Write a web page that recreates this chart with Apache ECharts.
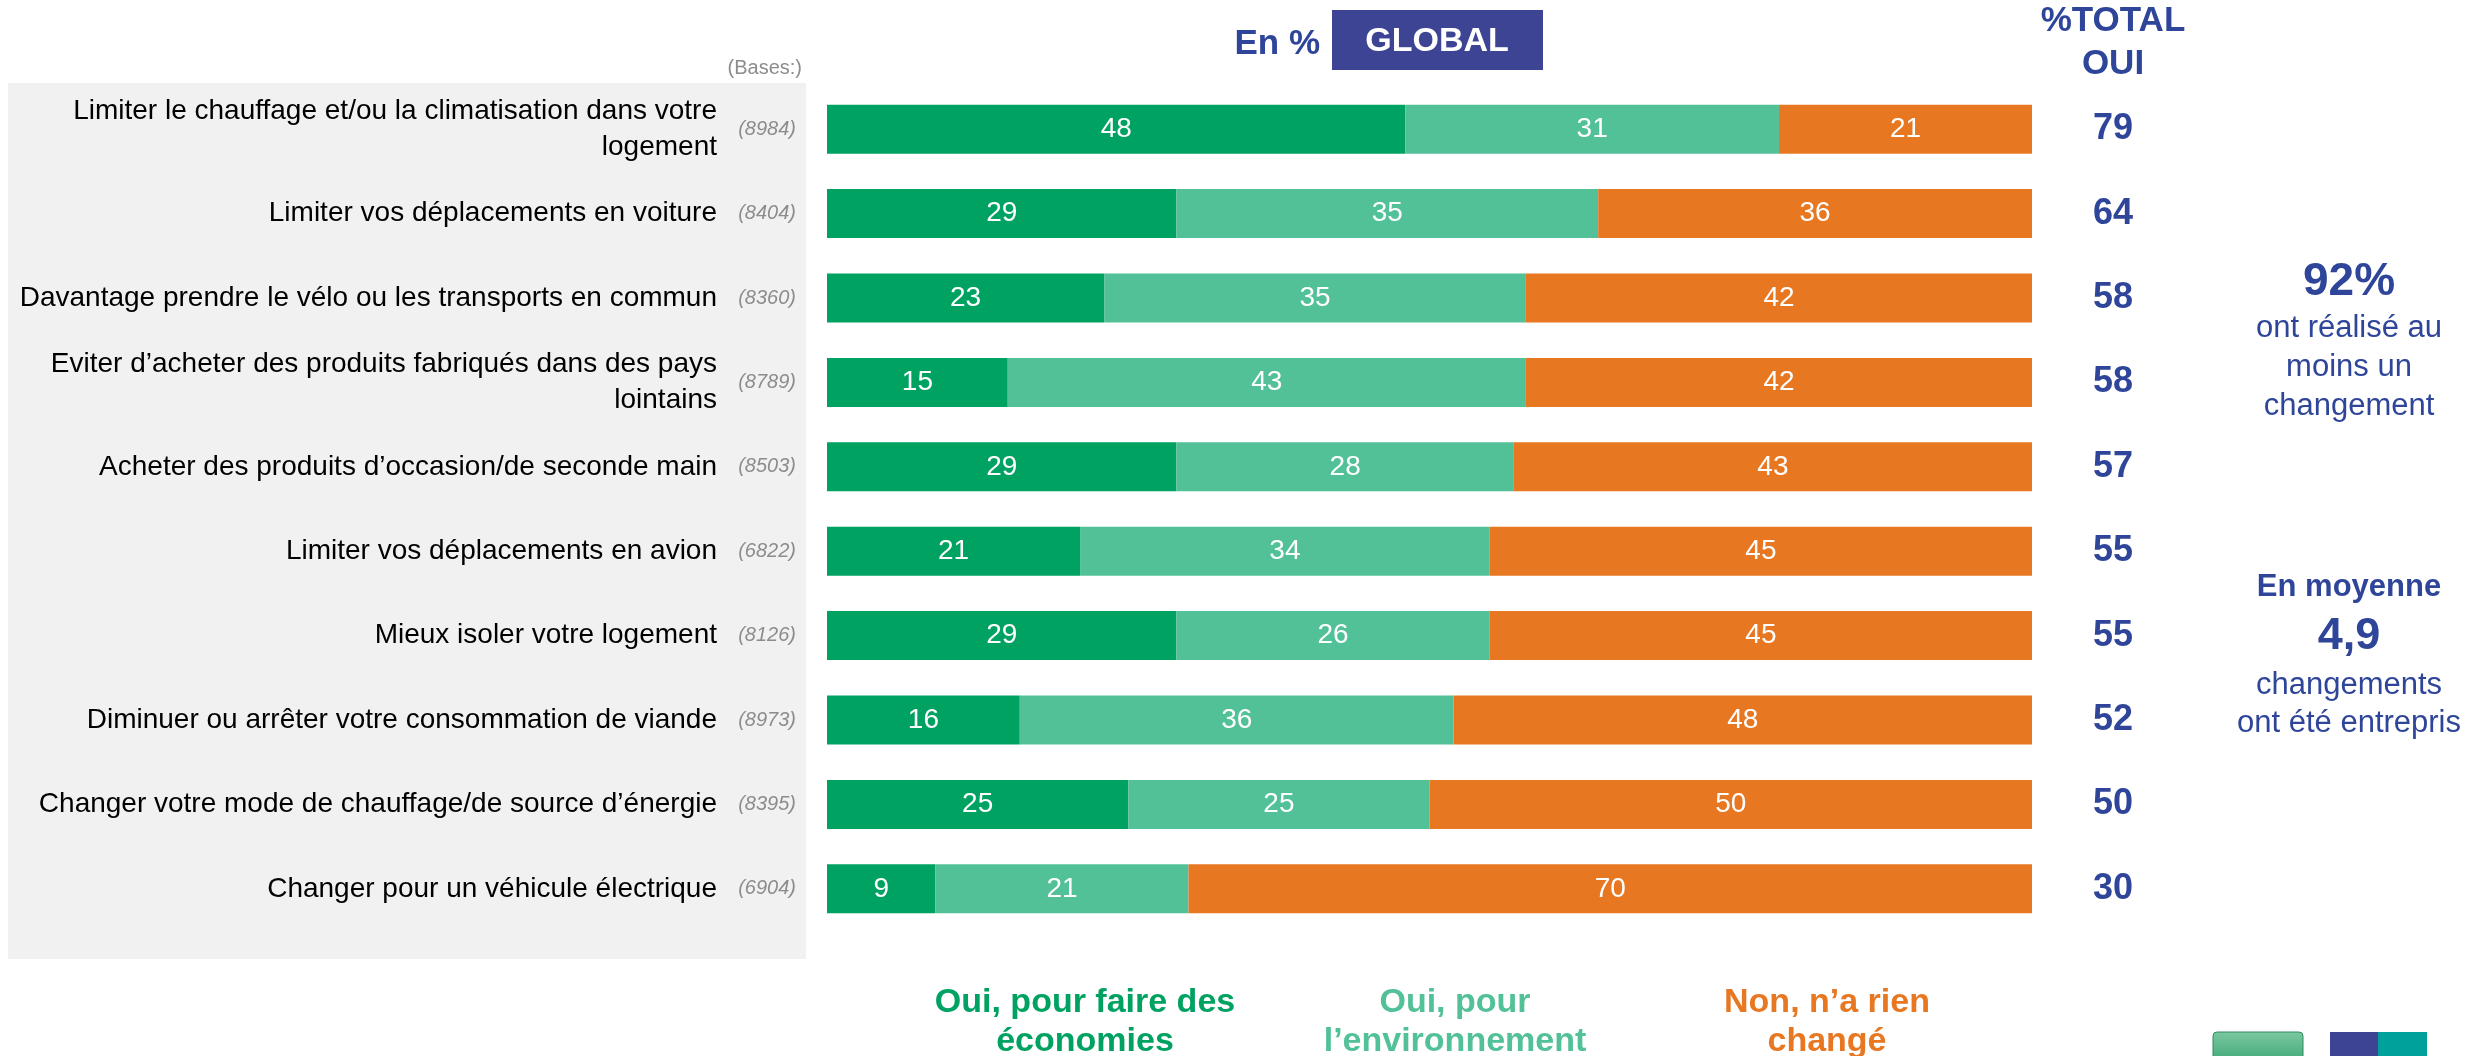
<!DOCTYPE html>
<html>
<head>
<meta charset="utf-8">
<script src="https://cdn.jsdelivr.net/npm/echarts@6/dist/echarts.min.js"></script>
<style>
  html, body { margin: 0; padding: 0; background: #fff; }
  #chart { width: 2486px; height: 1056px; }
</style>
</head>
<body>
<div id="chart"></div>
<script>
const categories = [
  "Limiter le chauffage et/ou la climatisation dans votre\nlogement",
  "Limiter vos déplacements en voiture",
  "Davantage prendre le vélo ou les transports en commun",
  "Eviter d’acheter des produits fabriqués dans des pays\nlointains",
  "Acheter des produits d’occasion/de seconde main",
  "Limiter vos déplacements en avion",
  "Mieux isoler votre logement",
  "Diminuer ou arrêter votre consommation de viande",
  "Changer votre mode de chauffage/de source d’énergie",
  "Changer pour un véhicule électrique"
];
const bases = ["(8984)", "(8404)", "(8360)", "(8789)", "(8503)", "(6822)", "(8126)", "(8973)", "(8395)", "(6904)"];
const economies = [48, 29, 23, 15, 29, 21, 29, 16, 25, 9];
const environnement = [31, 35, 35, 43, 28, 34, 26, 36, 25, 21];
const rienChange = [21, 36, 42, 42, 43, 45, 45, 48, 50, 70];
const totalOui = [79, 64, 58, 58, 57, 55, 55, 52, 50, 30];
const seriesNames = ["Oui, pour faire des\néconomies", "Oui, pour\nl’environnement", "Non, n’a rien\nchangé"];

const FONT = "'Liberation Sans', Arial, sans-serif";
const BLUE = "#2E4599";
const colors = ["#00A262", "#52C197", "#E87722"];

const chart = echarts.init(document.getElementById("chart"));

function barSeries(name, data, color) {
  return {
    name: name,
    type: "bar",
    stack: "total",
    barWidth: 49,
    data: data,
    itemStyle: { color: color },
    label: {
      show: true,
      position: "inside",
      color: "#fff",
      fontSize: 28,
      fontFamily: FONT
    },
    emphasis: { disabled: true }
  };
}

function txt(text, x, y, size, color, weight, align) {
  return {
    type: "text",
    style: {
      text: text,
      x: x,
      y: y,
      fontSize: size,
      fontFamily: FONT,
      fontWeight: weight || "normal",
      fill: color,
      textAlign: align || "center",
      textVerticalAlign: "middle"
    }
  };
}

const option = {
  animation: false,
  grid: { left: 827, right: 454, top: 87, height: 844 },
  xAxis: { type: "value", min: 0, max: 100, show: false },
  yAxis: [
    {
      type: "category",
      data: categories,
      inverse: true,
      position: "left",
      axisLine: { show: false },
      axisTick: { show: false },
      axisLabel: { margin: 110, fontSize: 28, lineHeight: 36, color: "#000", fontFamily: FONT }
    },
    {
      type: "category",
      data: bases,
      inverse: true,
      position: "left",
      axisLine: { show: false },
      axisTick: { show: false },
      axisLabel: { margin: 31, fontSize: 20, fontStyle: "italic", color: "#8C8C8C", fontFamily: FONT }
    },
    {
      type: "category",
      data: totalOui,
      inverse: true,
      position: "right",
      axisLine: { show: false },
      axisTick: { show: false },
      axisLabel: { margin: 81, align: "center", fontSize: 36, fontWeight: "bold", color: BLUE, fontFamily: FONT }
    }
  ],
  series: [
    barSeries(seriesNames[0], economies, colors[0]),
    barSeries(seriesNames[1], environnement, colors[1]),
    barSeries(seriesNames[2], rienChange, colors[2])
  ],
  graphic: [
    { type: "rect", z: -10, silent: true, shape: { x: 8, y: 83, width: 798, height: 876 }, style: { fill: "#F1F1F1" } },
    txt("(Bases:)", 802, 68, 20, "#8C8C8C", "normal", "right"),
    txt("En %", 1320, 44, 35, BLUE, "bold", "right"),
    { type: "rect", shape: { x: 1332, y: 10, width: 211, height: 60 }, style: { fill: "#3D4494" } },
    txt("GLOBAL", 1437, 42, 34, "#fff", "bold"),
    txt("%TOTAL", 2113, 21, 35, BLUE, "bold"),
    txt("OUI", 2113, 64, 35, BLUE, "bold"),
    txt("92%", 2349, 282, 46, BLUE, "bold"),
    txt("ont réalisé au", 2349, 328, 31, BLUE),
    txt("moins un", 2349, 367, 31, BLUE),
    txt("changement", 2349, 406, 31, BLUE),
    txt("En moyenne", 2349, 587, 31, BLUE, "bold"),
    txt("4,9", 2349, 637, 45, BLUE, "bold"),
    txt("changements", 2349, 685, 31, BLUE),
    txt("ont été entrepris", 2349, 723, 31, BLUE),
    txt("Oui, pour faire des", 1085, 1003, 34, colors[0], "bold"),
    txt("économies", 1085, 1042, 34, colors[0], "bold"),
    txt("Oui, pour", 1455, 1003, 34, colors[1], "bold"),
    txt("l’environnement", 1455, 1042, 34, colors[1], "bold"),
    txt("Non, n’a rien", 1827, 1003, 34, colors[2], "bold"),
    txt("changé", 1827, 1042, 34, colors[2], "bold"),
    {
      type: "rect",
      shape: { x: 2213, y: 1032, width: 90, height: 30, r: 4 },
      style: {
        fill: new echarts.graphic.LinearGradient(0, 0, 0, 1, [
          { offset: 0, color: "#7CC8A0" },
          { offset: 1, color: "#3FA877" }
        ]),
        stroke: "#2E8B5E",
        lineWidth: 1
      }
    },
    { type: "rect", shape: { x: 2330, y: 1032, width: 48, height: 30 }, style: { fill: "#3D4494" } },
    { type: "rect", shape: { x: 2378, y: 1032, width: 49, height: 30 }, style: { fill: "#00A19A" } }
  ]
};

chart.setOption(option);
</script>
</body>
</html>
